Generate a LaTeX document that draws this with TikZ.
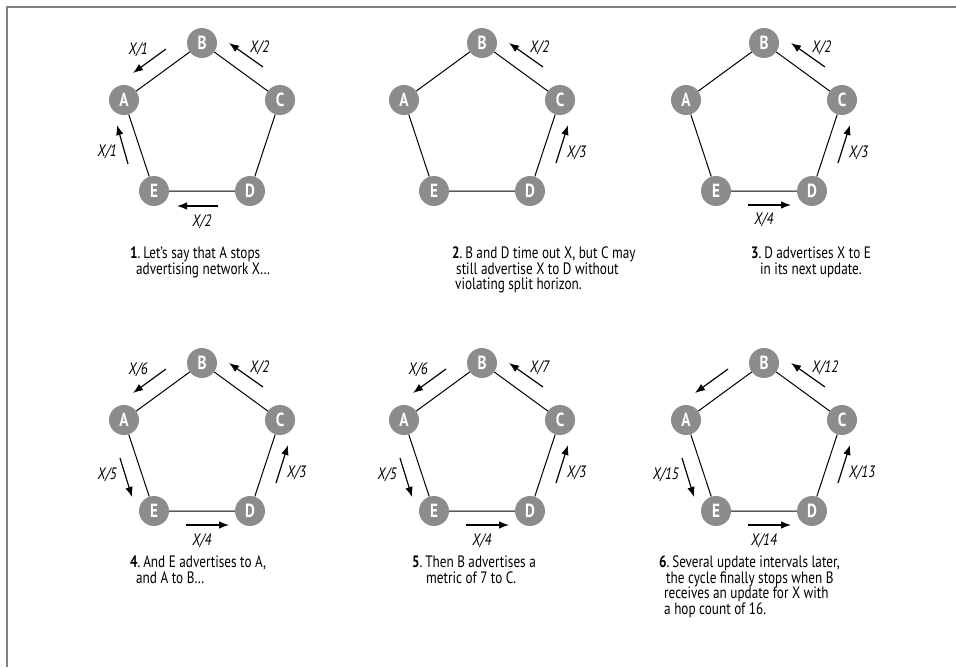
\documentclass[tikz,border=0pt]{standalone}
\usepackage{fontspec}
\setmainfont{PT Sans}[FakeStretch=0.8]
\usetikzlibrary{arrows.meta}

\definecolor{nodegray}{RGB}{140,140,140}
\definecolor{framegray}{RGB}{128,128,128}

\tikzset{
    router/.style={circle, fill=nodegray, minimum size=30pt, inner sep=0pt,
        text=white, font=\fontsize{19}{19}\selectfont\bfseries},
    link/.style={black, line width=1pt},
    adv/.style={line width=1.2pt, -{Latex[length=10pt,width=7.5pt]}},
    hop/.style={font=\fontsize{16.5}{16}\selectfont\itshape, inner sep=0pt},
    caption/.style={font=\fontsize{16.5}{15.5}\selectfont, align=left,
        anchor=north west, inner sep=0pt}
}

\begin{document}
\begin{tikzpicture}[x=1pt, y=-1pt]
    \useasboundingbox (0,0) rectangle (956,667);

    %% Frame
    \draw[framegray, line width=2pt] (7,667) -- (7,7) -- (956,7);

    %% Rings of routers
    \foreach \p/\cx/\cy in {1/202/125, 2/482/125, 3/764/125,
                            4/202/445, 5/482/445, 6/764/445} {
        \begin{scope}[shift={(\cx,\cy)}]
            \node[router] (B\p) at (0,-82) {B};
            \node[router] (A\p) at (-78,-25) {A};
            \node[router] (C\p) at (78,-25) {C};
            \node[router] (E\p) at (-48,66) {E};
            \node[router] (D\p) at (48,66) {D};
            \draw[link] (A\p) -- (B\p) -- (C\p) -- (D\p) -- (E\p) -- (A\p);
        \end{scope}
    }

    %% Step 1
    \begin{scope}[shift={(202,125)}]
        \draw[adv] (-36,-76) -- (-69,-52);
        \node[hop, anchor=east] (h1ba) at (-54,-75) {X/1};
        \draw[adv] (61,-58) -- (27,-82);
        \node[hop, anchor=west] (h1cb) at (48,-77) {X/2};
        \draw[adv] (-74,39) -- (-85,0);
        \node[hop, anchor=east] (h1ea) at (-85,27) {X/1};
        \draw[adv] (16,81) -- (-25,81);
        \node[hop] (h1de) at (0,97) {X/2};
    \end{scope}
    \node[caption] (cap1) at (130,247)
        {\textbf{1}.\,Let’s say that A stops\\\hspace*{6pt}advertising network X…};

    %% Step 2
    \begin{scope}[shift={(482,125)}]
        \draw[adv] (61,-58) -- (27,-82);
        \node[hop, anchor=west] (h2cb) at (48,-77) {X/2};
        \draw[adv] (74,38) -- (86,0);
        \node[hop, anchor=west] (h2dc) at (85,28) {X/3};
    \end{scope}
    \node[caption] (cap2) at (452,247)
        {\textbf{2}.\,B and D time out X, but C may\\\hspace*{4pt}still advertise X to D without\\\hspace*{3pt}violating split horizon.};

    %% Step 3
    \begin{scope}[shift={(764,125)}]
        \draw[adv] (61,-58) -- (27,-82);
        \node[hop, anchor=west] (h3cb) at (48,-77) {X/2};
        \draw[adv] (74,38) -- (86,0);
        \node[hop, anchor=west] (h3dc) at (85,28) {X/3};
        \draw[adv] (-16,80) -- (27,80);
        \node[hop] (h3ed) at (0,95) {X/4};
    \end{scope}
    \node[caption] (cap3) at (751,247)
        {\textbf{3}.\,D advertises X to E\\\hspace*{9pt}in its next update.};

    %% Step 4
    \begin{scope}[shift={(202,445)}]
        \draw[adv] (-36,-76) -- (-69,-52);
        \node[hop, anchor=east] (h4ba) at (-54,-75) {X/6};
        \draw[adv] (61,-58) -- (27,-82);
        \node[hop, anchor=west] (h4cb) at (48,-77) {X/2};
        \draw[adv] (-82,13) -- (-70,52);
        \node[hop, anchor=east] (h4ae) at (-85,30) {X/5};
        \draw[adv] (74,38) -- (86,0);
        \node[hop, anchor=west] (h4dc) at (85,28) {X/3};
        \draw[adv] (-16,80) -- (27,80);
        \node[hop] (h4ed) at (0,96) {X/4};
    \end{scope}
    \node[caption] (cap4) at (130,556)
        {\textbf{4}.\,And E advertises to A,\\\hspace*{6pt}and A to B…};

    %% Step 5
    \begin{scope}[shift={(482,445)}]
        \draw[adv] (-36,-76) -- (-69,-52);
        \node[hop, anchor=east] (h5ba) at (-54,-75) {X/6};
        \draw[adv] (61,-58) -- (27,-82);
        \node[hop, anchor=west] (h5cb) at (48,-77) {X/7};
        \draw[adv] (-82,13) -- (-70,52);
        \node[hop, anchor=east] (h5ae) at (-85,30) {X/5};
        \draw[adv] (74,38) -- (86,0);
        \node[hop, anchor=west] (h5dc) at (85,28) {X/3};
        \draw[adv] (-16,80) -- (27,80);
        \node[hop] (h5ed) at (0,96) {X/4};
    \end{scope}
    \node[caption] (cap5) at (412,556)
        {\textbf{5}.\,Then B advertises a\\\hspace*{14pt}metric of 7 to C.};

    %% Step 6
    \begin{scope}[shift={(764,445)}]
        \draw[adv] (-36,-76) -- (-69,-52);
        \draw[adv] (61,-58) -- (27,-82);
        \node[hop, anchor=west] (h6cb) at (48,-77) {X/12};
        \draw[adv] (-82,13) -- (-70,52);
        \node[hop, anchor=east] (h6ae) at (-85,30) {X/15};
        \draw[adv] (74,38) -- (86,0);
        \node[hop, anchor=west] (h6dc) at (85,28) {X/13};
        \draw[adv] (-16,80) -- (27,80);
        \node[hop] (h6ed) at (0,96) {X/14};
    \end{scope}
    \node[caption] (cap6) at (659,556)
        {\textbf{6}.\,Several update intervals later,\\\hspace*{7pt}the cycle finally stops when B\\\hspace*{5pt}receives an update for X with\\\hspace*{5pt}a hop count of 16.};
\end{tikzpicture}
\end{document}
